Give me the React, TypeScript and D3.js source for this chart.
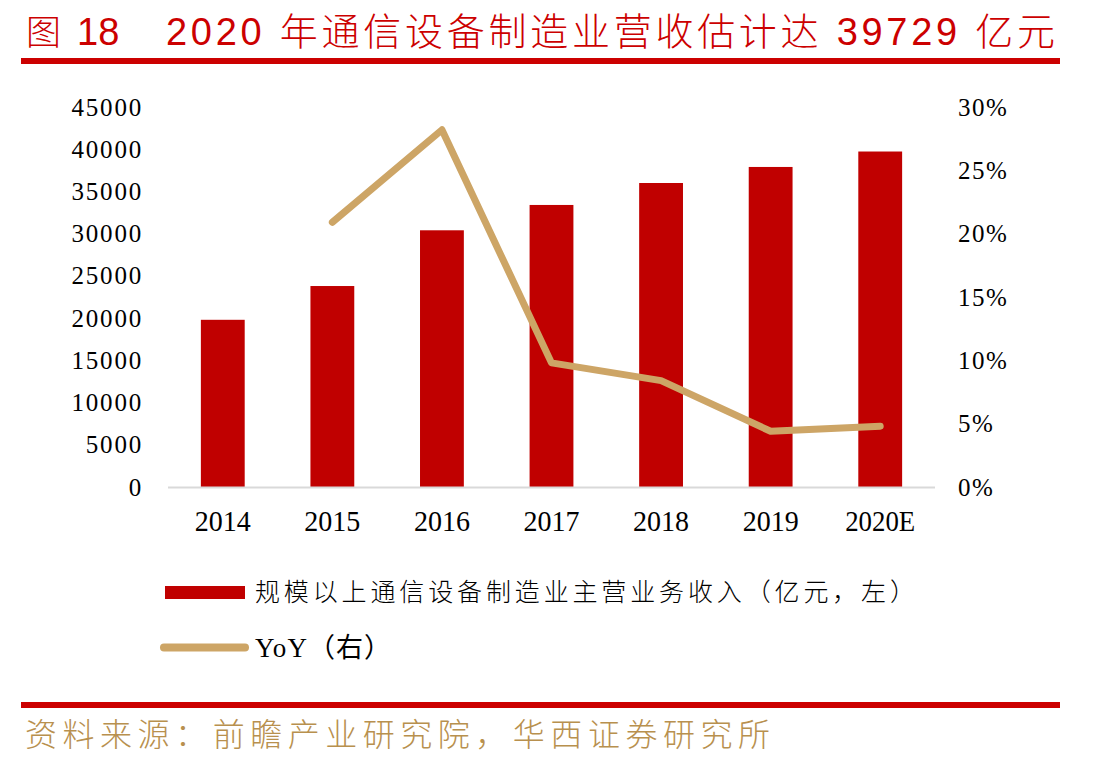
import React, { useEffect, useRef } from "react";
import * as d3 from "d3";

// 规模以上通信设备制造业主营业务收入（亿元）与同比增速
const years = ["2014", "2015", "2016", "2017", "2018", "2019", "2020E"];
const revenue = [19800, 23800, 30400, 33400, 36000, 37900, 39729];
const yoyYears = ["2015", "2016", "2017", "2018", "2019", "2020E"];
const yoy = [20.9, 28.2, 9.8, 8.4, 4.4, 4.8];
const leftTicks = [0, 5000, 10000, 15000, 20000, 25000, 30000, 35000, 40000, 45000];
const rightTicks = [0, 5, 10, 15, 20, 25, 30];

const W = 1109,
    H = 766;
const RED = "#C00000";
const TAN = "#CDA566";
const CJK = "'Noto Sans CJK SC', sans-serif";
const SERIF = "'Liberation Serif', 'Noto Sans CJK SC', serif";

export default function App() {
    const ref = useRef<SVGSVGElement>(null);

    useEffect(() => {
        const svg = d3.select(ref.current);
        svg.selectAll("*").remove();

        // title
        const title = svg.append("g").attr("fill", "#CC0000").attr("font-weight", 300);
        title.append("text")
            .attr("x", 26)
            .attr("y", 45)
            .attr("font-family", CJK)
            .attr("font-size", 35)
            .text("图");
        title.append("text")
            .attr("x", 77)
            .attr("y", 45)
            .attr("font-family", `'Liberation Sans', ${CJK}`)
            .attr("font-size", 38)
            .text("18");
        title.append("text")
            .attr("x", 166)
            .attr("y", 45)
            .attr("font-family", `'Liberation Sans', ${CJK}`)
            .attr("font-size", 38)
            .attr("textLength", 889)
            .text("2020 年通信设备制造业营收估计达 39729 亿元");
        svg.append("rect").attr("x", 21).attr("y", 58).attr("width", 1039).attr("height", 6).attr("fill", "#CC0000");

        const x = d3.scaleBand().domain(years).range([168, 935]).paddingInner(0.6).paddingOuter(0.3);
        const yL = d3.scaleLinear().domain([0, 45000]).range([487, 107]);
        const yR = d3.scaleLinear().domain([0, 30]).range([487, 107]);

        // left axis labels
        svg.append("g")
            .selectAll("text")
            .data(leftTicks)
            .join("text")
            .attr("x", 143)
            .attr("y", (d) => yL(d))
            .attr("dy", "0.34em")
            .attr("text-anchor", "end")
            .attr("font-family", SERIF)
            .attr("font-size", 25)
            .attr("letter-spacing", 1.8)
            .attr("fill", "#000")
            .text((d) => String(d));

        // right axis labels
        svg.append("g")
            .selectAll("text")
            .data(rightTicks)
            .join("text")
            .attr("x", 958)
            .attr("y", (d) => yR(d))
            .attr("dy", "0.34em")
            .attr("font-family", SERIF)
            .attr("font-size", 25)
            .attr("letter-spacing", 1.5)
            .attr("fill", "#000")
            .text((d) => `${d}%`);

        // bars
        svg.append("g")
            .selectAll("rect")
            .data(revenue)
            .join("rect")
            .attr("x", (_, i) => x(years[i]) as number)
            .attr("y", (d) => yL(d))
            .attr("width", x.bandwidth())
            .attr("height", (d) => yL(0) - yL(d))
            .attr("fill", RED);

        // category axis
        svg.append("line")
            .attr("x1", 168)
            .attr("x2", 935)
            .attr("y1", 487.5)
            .attr("y2", 487.5)
            .attr("stroke", "#D9D9D9")
            .attr("stroke-width", 2);

        svg.append("g")
            .selectAll("text")
            .data(years)
            .join("text")
            .attr("x", (d) => (x(d) as number) + x.bandwidth() / 2)
            .attr("y", 531)
            .attr("text-anchor", "middle")
            .attr("font-family", SERIF)
            .attr("font-size", 30)
            .attr("textLength", (d) => d.length * 14)
            .attr("lengthAdjust", "spacingAndGlyphs")
            .attr("fill", "#000")
            .text((d) => d);

        // YoY line
        const line = d3
            .line<number>()
            .x((_, i) => (x(yoyYears[i]) as number) + x.bandwidth() / 2)
            .y((d) => yR(d));
        svg.append("path")
            .datum(yoy)
            .attr("d", line)
            .attr("fill", "none")
            .attr("stroke", TAN)
            .attr("stroke-width", 7)
            .attr("stroke-linejoin", "round")
            .attr("stroke-linecap", "round");

        // legend
        svg.append("rect").attr("x", 165).attr("y", 586).attr("width", 80).attr("height", 13).attr("fill", RED);
        svg.append("text")
            .attr("x", 255)
            .attr("y", 601)
            .attr("font-family", CJK)
            .attr("font-size", 25)
            .attr("font-weight", 300)
            .attr("textLength", 660)
            .attr("fill", "#000")
            .text("规模以上通信设备制造业主营业务收入（亿元，左）");
        svg.append("line")
            .attr("x1", 164)
            .attr("x2", 245)
            .attr("y1", 647.5)
            .attr("y2", 647.5)
            .attr("stroke", TAN)
            .attr("stroke-width", 8)
            .attr("stroke-linecap", "round");
        svg.append("text")
            .attr("x", 255)
            .attr("y", 657)
            .attr("font-family", SERIF)
            .attr("font-size", 27)
            .attr("textLength", 136)
            .attr("fill", "#000")
            .text("YoY（右）");

        // source
        svg.append("rect").attr("x", 21).attr("y", 702).attr("width", 1039).attr("height", 6).attr("fill", "#CC0000");
        svg.append("text")
            .attr("x", 25)
            .attr("y", 746)
            .attr("font-family", CJK)
            .attr("font-size", 32)
            .attr("font-weight", 300)
            .attr("textLength", 745)
            .attr("fill", "#B8904E")
            .text("资料来源：前瞻产业研究院，华西证券研究所");
    }, []);

    return (
        <svg
            ref={ref}
            width={W}
            height={H}
            style={{ position: "absolute", left: 0, top: 0, background: "#fff" }}
        />
    );
}
